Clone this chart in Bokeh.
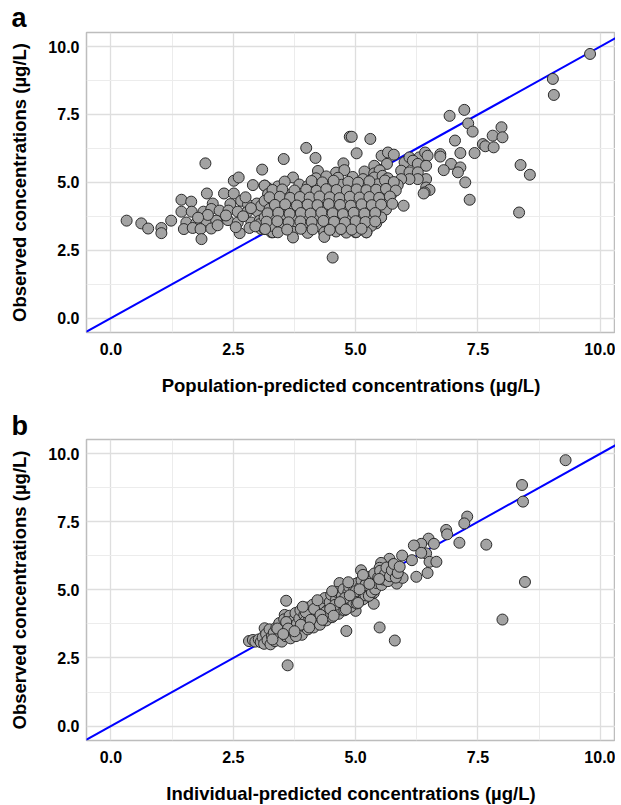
from bokeh.plotting import figure
from bokeh.models import Slope, FixedTicker, NumeralTickFormatter, Range1d
from bokeh.layouts import column
from bokeh.embed import file_html
from bokeh.resources import INLINE

# ---------------- data ----------------
TICKS = [0, 2.5, 5, 7.5, 10]
MINOR_TICKS = [1.25, 3.75, 6.25, 8.75]

# Panel a: population-predicted vs observed (sparse / outlying points)
a_sparse_x = [0.32, 0.62, 0.76, 1.03, 1.03, 1.23, 1.44, 1.64, 1.93, 1.96, 2.31, 2.51, 2.51, 2.61, 2.90,
              3.09, 3.14, 3.21, 2.08, 2.44, 2.66, 2.80, 2.98, 1.44, 1.65, 1.89, 2.05, 2.22, 2.40, 2.59,
              2.79, 3.00, 3.21, 1.54, 1.74, 1.95, 2.15, 2.39, 2.59, 2.87, 3.04, 3.24, 1.49, 1.67, 1.83,
              2.05, 2.63, 2.83, 3.07, 3.28, 1.85, 3.07, 3.24, 3.28, 3.21, 3.31, 3.14, 3.04,
              3.53, 3.99, 4.18, 4.75, 4.88, 4.92, 5.30, 5.02, 5.53, 5.66, 5.78, 5.64, 5.45, 5.38,
              6.00, 6.10, 6.20, 6.30, 6.42, 6.47, 6.17, 6.27, 6.44, 5.93, 6.10, 6.27, 6.44, 6.27,
              6.10, 5.93, 6.44, 6.51, 6.41, 6.39, 5.98, 4.53, 6.73, 6.73, 7.14, 7.43, 6.95, 7.14,
              6.80, 7.09, 7.24, 7.33, 8.37, 8.56, 8.34, 7.03, 7.60, 7.65, 7.82, 7.98, 7.80, 8.00,
              7.30, 7.39, 6.92, 7.22, 9.03, 9.05, 9.79, 5.52, 5.42, 5.22, 5.00, 4.81, 4.36, 4.19,
              2.70, 2.86, 2.55, 2.35, 2.18, 1.98, 1.78, 2.95, 2.75]
a_sparse_y = [3.59, 3.49, 3.30, 3.32, 3.13, 3.59, 4.36, 4.29, 5.70, 4.59, 4.59, 4.59, 5.06, 5.18, 4.90,
              5.47, 4.88, 4.78, 4.22, 4.20, 4.32, 4.18, 4.22, 3.92, 3.92, 3.92, 4.02, 3.96, 3.96, 3.92,
              3.92, 3.92, 4.02, 3.52, 3.49, 3.59, 3.59, 3.61, 3.52, 3.52, 3.59, 3.61, 3.28, 3.32, 3.28,
              3.30, 3.13, 3.32, 3.28, 3.16, 2.91, 4.14, 3.96, 3.65, 3.34, 3.16, 3.28, 3.46,
              5.86, 6.27, 5.90, 5.70, 6.68, 6.68, 6.60, 6.07, 5.98, 6.10, 6.02, 5.68, 5.49, 5.61,
              5.74, 5.92, 5.80, 5.92, 6.10, 5.98, 5.80, 5.68, 5.61, 5.43, 5.37, 5.37, 5.12, 5.12,
              5.12, 5.12, 4.81, 4.72, 4.63, 4.59, 4.14, 2.23, 6.04, 5.95, 6.08, 6.08, 5.68, 5.55,
              5.45, 5.37, 5.00, 4.36, 5.64, 5.28, 3.89, 6.54, 6.41, 6.33, 6.29, 7.03, 6.72, 6.66,
              7.17, 6.87, 7.45, 7.67, 8.81, 8.22, 9.73, 3.71, 3.49, 3.16, 3.16, 3.28, 3.16, 3.49,
              3.75, 4.05, 3.35, 3.78, 3.42, 3.80, 3.70, 3.38, 4.45]

# Panel a: dense central cloud
a_cloud_x = [4.23, 4.60, 4.77, 5.18, 5.38, 5.49,
             3.72, 4.19, 4.40, 4.64, 4.94, 5.15, 5.38, 5.55, 5.66,
             3.14, 3.41, 3.85, 4.02, 4.23, 4.47, 4.71, 4.94, 5.18, 5.45, 5.69, 5.86,
             3.21, 3.41, 3.61, 3.89, 4.09, 4.30, 4.50, 4.71, 4.91, 5.11, 5.32, 5.52, 5.73,
             3.14, 3.31, 3.55, 3.75, 3.96, 4.16, 4.36, 4.57, 4.77, 5.01, 5.18, 5.38, 5.59,
             3.24, 3.45, 3.68, 3.92, 4.12, 4.33, 4.57, 4.81, 5.01, 5.22, 5.45, 5.62,
             3.14, 3.34, 3.55, 3.79, 3.99, 4.19, 4.43, 4.64, 4.84, 5.08, 5.28, 5.52,
             3.28, 3.51, 3.75, 3.99, 4.23, 4.47, 4.67, 4.87, 5.11, 5.32,
             3.41, 3.72, 4.02, 4.36, 4.60, 4.81, 5.01, 5.22,
             3.72, 4.36,
             3.55, 4.10, 4.32, 4.55, 4.85, 5.05, 5.28, 5.60, 5.78,
             3.30, 3.50, 3.75, 3.99, 4.20, 4.40, 4.61, 4.82, 5.02, 5.22, 5.42, 5.62, 5.82,
             3.24, 3.45, 3.66, 3.86, 4.06, 4.26, 4.47, 4.67, 4.88, 5.08, 5.28, 5.48, 5.70,
             3.35, 3.56, 3.80, 4.02, 4.22, 4.45, 4.68, 4.90, 5.12, 5.33, 5.52, 5.75,
             3.20, 3.42, 3.65, 3.88, 4.08, 4.30, 4.53, 4.74, 4.96, 5.18, 5.40,
             3.18, 3.40, 3.63, 3.87, 4.10, 4.34, 4.56, 4.78, 5.00, 5.20, 5.40,
             3.15, 3.60, 3.88, 4.12, 4.47, 4.70, 4.92, 5.12]
a_cloud_y = [5.42, 5.36, 5.45, 5.40, 5.33, 5.44,
             5.18, 5.15, 5.22, 5.17, 5.20, 5.12, 5.18, 5.24, 5.15,
             4.88, 4.85, 4.92, 4.86, 4.90, 4.84, 4.91, 4.87, 4.82, 4.93, 4.88, 4.90,
             4.57, 4.60, 4.55, 4.58, 4.62, 4.54, 4.59, 4.57, 4.61, 4.55, 4.58, 4.63, 4.56,
             4.32, 4.35, 4.30, 4.33, 4.29, 4.34, 4.31, 4.36, 4.30, 4.32, 4.28, 4.35, 4.33,
             4.02, 4.05, 3.99, 4.03, 4.00, 4.06, 4.02, 3.98, 4.04, 4.01, 4.05, 4.00,
             3.71, 3.74, 3.69, 3.72, 3.70, 3.75, 3.71, 3.68, 3.73, 3.70, 3.74, 3.71,
             3.40, 3.43, 3.38, 3.41, 3.39, 3.44, 3.40, 3.37, 3.42, 3.40,
             3.16, 3.18, 3.14, 3.16, 3.19, 3.15, 3.17, 3.16,
             2.97, 2.99,
             5.03, 5.05, 5.00, 5.06, 5.02, 4.99, 5.04, 5.07, 5.01,
             4.72, 4.74, 4.70, 4.73, 4.69, 4.75, 4.72, 4.70, 4.74, 4.71, 4.73, 4.76, 4.70,
             4.45, 4.47, 4.43, 4.46, 4.44, 4.48, 4.45, 4.42, 4.47, 4.44, 4.46, 4.43, 4.48,
             4.17, 4.19, 4.15, 4.18, 4.16, 4.20, 4.17, 4.14, 4.19, 4.16, 4.18, 4.21,
             3.86, 3.88, 3.84, 3.87, 3.85, 3.89, 3.86, 3.83, 3.88, 3.85, 3.87,
             3.55, 3.57, 3.53, 3.56, 3.54, 3.58, 3.55, 3.52, 3.57, 3.54, 3.56,
             3.28, 3.26, 3.29, 3.27, 3.25, 3.28, 3.26, 3.29]

# Panel b: individual-predicted vs observed (sparse / outlying points)
b_sparse_x = [9.29, 8.40, 8.42, 7.28, 7.22, 6.85, 6.87, 7.12, 7.67, 8.46, 8.00, 5.80, 5.49, 4.81,
              3.61, 3.58, 5.00, 5.37, 6.24, 6.47, 5.84, 5.96,
              6.49, 6.60, 6.34, 6.19, 6.44, 6.34, 6.51, 6.65, 6.15, 5.95,
              5.69, 5.76, 5.52, 5.49, 5.73, 5.86, 5.79, 5.42, 5.28, 5.11, 5.35, 5.22, 5.04, 4.84,
              4.67, 5.37, 3.14, 3.34, 3.48, 3.55]
b_sparse_y = [9.76, 8.85, 8.24, 7.69, 7.44, 7.20, 7.04, 6.73, 6.66, 5.29, 3.91, 3.14, 3.62, 3.49,
              2.23, 4.60, 4.23, 4.49, 5.48, 5.62, 5.23, 5.44,
              6.88, 6.69, 6.69, 6.63, 6.34, 6.36, 6.03, 6.03, 6.09, 6.26,
              6.14, 5.93, 5.99, 5.81, 5.68, 5.75, 5.56, 5.56, 5.38, 5.72, 5.31, 5.19, 5.25, 5.19,
              5.25, 4.89, 3.59, 3.47, 3.78, 4.08]

# Panel b: dense band along the identity line
b_band_x = [2.82, 2.90, 2.95, 3.02, 3.06, 3.10, 3.13, 3.17, 3.20, 3.24, 3.26, 3.29, 3.33, 3.35,
            3.38, 3.41, 3.44, 3.46, 3.49, 3.52, 3.54, 3.57, 3.60, 3.63, 3.65, 3.67, 3.70, 3.72,
            3.75, 3.77, 3.80, 3.82, 3.85, 3.87, 3.90, 3.92, 3.95, 3.97, 4.00, 4.02, 4.05, 4.07,
            4.10, 4.12, 4.14, 4.17, 4.20, 4.22, 4.25, 4.27, 4.30, 4.32, 4.35, 4.37, 4.40, 4.42,
            4.45, 4.47, 4.50, 4.52, 4.55, 4.57, 4.60, 4.62, 4.65, 4.67, 4.70, 4.72, 4.75, 4.77,
            4.80, 4.82, 4.85, 4.87, 4.90, 4.92, 4.95, 4.97, 5.00, 5.02, 5.05, 5.07, 5.10, 5.12,
            5.15, 5.18, 5.20, 5.22, 5.25, 5.27, 5.30, 5.33, 5.35, 5.38, 5.40, 5.43, 5.46, 5.50,
            5.53, 5.56, 5.60, 5.63, 5.66, 5.70, 5.74, 5.78, 5.82, 5.86, 5.90,
            3.40, 3.58, 3.78, 3.98, 4.15, 4.38, 4.58, 4.78, 5.00, 5.20,
            3.30, 3.62, 3.88, 4.08, 4.28, 4.48, 4.68, 4.88, 5.08, 5.28, 5.48,
            3.52, 3.75, 4.05, 4.32, 4.55, 4.80, 5.05, 3.92, 4.22, 4.52, 4.85, 5.15]
b_band_y = [3.12, 3.16, 3.10, 3.18, 3.08, 3.25, 3.02, 3.38, 3.15, 3.55, 3.00, 3.30, 3.44, 3.12,
            3.62, 3.25, 3.78, 3.40, 3.10, 3.55, 3.92, 3.30, 3.70, 3.48, 4.05, 3.22, 3.85, 3.60,
            3.40, 4.15, 3.75, 3.52, 3.95, 4.25, 3.35, 3.68, 4.08, 3.85, 4.35, 3.55, 3.98, 3.75,
            4.22, 4.45, 3.62, 4.05, 3.85, 4.32, 4.58, 3.72, 4.15, 3.95, 4.45, 4.70, 3.88, 4.25,
            4.05, 4.55, 4.82, 4.00, 4.35, 4.18, 4.65, 4.92, 4.12, 4.48, 4.28, 4.78, 5.02, 4.25,
            4.60, 4.40, 4.90, 5.10, 4.38, 4.72, 4.55, 5.00, 5.22, 4.50, 4.85, 4.68, 5.12, 5.35,
            4.65, 4.98, 4.80, 5.25, 5.48, 4.78, 5.10, 4.92, 5.38, 5.60, 5.02, 5.25, 5.45, 5.70,
            5.18, 5.38, 5.58, 5.82, 5.32, 5.50, 5.72, 5.95, 5.45, 5.62, 5.85,
            3.58, 3.82, 3.30, 4.18, 4.30, 4.18, 4.45, 4.70, 4.95, 5.18,
            3.18, 3.58, 3.72, 3.90, 4.08, 4.30, 4.55, 4.80, 5.02, 5.22, 5.40,
            3.38, 3.48, 3.62, 3.90, 4.05, 4.28, 4.52, 4.38, 4.62, 4.95, 5.28, 5.55]

X_LABELS = ["Population-predicted concentrations (\u00b5g/L)",
            "Individual-predicted concentrations (\u00b5g/L)"]
Y_LABEL = "Observed concentrations (\u00b5g/L)"
PANEL_LETTERS = ["a", "b"]

FONT = "Liberation Sans"
X_MIN, X_MAX = -0.5, 10.31
Y_MIN, Y_MAX = -0.53, 10.52


def make_panel(xs, ys, xlabel, letter, border_top, border_bottom, frame_h, title_standoff):
    p = figure(frame_width=529, frame_height=frame_h,
               x_range=Range1d(X_MIN, X_MAX), y_range=Range1d(Y_MIN, Y_MAX),
               output_backend="svg", toolbar_location=None,
               min_border_left=86, min_border_right=0,
               min_border_top=border_top, min_border_bottom=border_bottom,
               background_fill_color="white", border_fill_color="white")
    p.outline_line_color = "#bdbdbd"
    p.outline_line_width = 1.5

    # panel letter as the figure title, pushed left over the axis area
    p.title.text = letter
    p.title.align = "left"
    p.title.offset = -75
    p.title.standoff = title_standoff
    p.title.text_font = FONT
    p.title.text_font_style = "bold"
    p.title.text_font_size = "27px"
    p.title.text_color = "black"

    for ax in (p.xaxis[0], p.yaxis[0]):
        ax.ticker = FixedTicker(ticks=TICKS, minor_ticks=MINOR_TICKS)
        ax.formatter = NumeralTickFormatter(format="0.0")
        ax.axis_line_color = None
        ax.major_tick_line_color = None
        ax.minor_tick_line_color = None
        ax.major_tick_out = 0
        ax.major_tick_in = 0
        ax.major_label_text_font = FONT
        ax.major_label_text_font_style = "bold"
        ax.major_label_text_font_size = "16px"
        ax.major_label_text_color = "black"
        ax.axis_label_text_font = FONT
        ax.axis_label_text_font_style = "bold"
        ax.axis_label_text_font_size = "18.5px"
        ax.axis_label_text_color = "black"

    p.xaxis.axis_label = xlabel
    p.yaxis.axis_label = Y_LABEL
    p.xaxis.major_label_standoff = 6
    p.xaxis.axis_label_standoff = 17
    p.yaxis.major_label_standoff = 3
    p.yaxis.axis_label_standoff = 15

    p.grid.grid_line_color = "#dedede"
    p.grid.grid_line_width = 1.3
    p.grid.minor_grid_line_color = "#ececec"
    p.grid.minor_grid_line_width = 1

    p.add_layout(Slope(gradient=1, y_intercept=0, line_color="#0000ff",
                       line_width=2, level="underlay"))

    p.scatter(xs, ys, size=11, fill_color="#a3a3a3", line_color="#2a2a2a",
              line_width=1)
    return p


pa = make_panel(a_sparse_x + a_cloud_x, a_sparse_y + a_cloud_y,
                X_LABELS[0], PANEL_LETTERS[0], 32, 64, 300, 0)
pb = make_panel(b_sparse_x + b_band_x, b_sparse_y + b_band_y,
                X_LABELS[1], PANEL_LETTERS[1], 41, 65, 301, -3)

layout = column(pa, pb)
open("out.html", "w").write(file_html(layout, INLINE))
